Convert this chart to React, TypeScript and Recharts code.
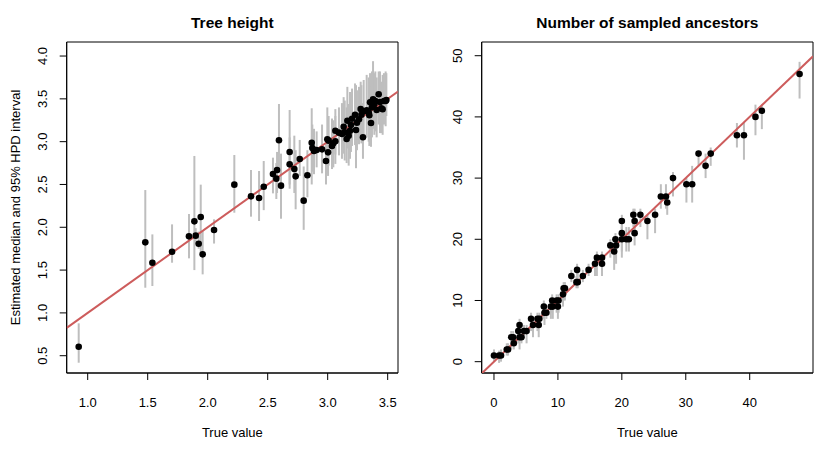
import React from 'react';
import { ScatterChart, Scatter, XAxis, YAxis, ErrorBar, ReferenceArea } from 'recharts';

// ---------- Tree height ----------
const heightTrue = [0.925, 1.48, 1.539, 1.703, 1.844, 1.889, 1.9, 1.925, 1.942, 1.958, 2.053, 2.222, 2.361, 2.428, 2.467, 2.544, 2.572, 2.578, 2.594, 2.611, 2.683, 2.683, 2.722, 2.733, 2.767, 2.8, 2.831, 2.867, 2.872, 2.886, 2.908, 2.953, 2.986, 2.997, 3.003, 3.008, 3.036, 3.047, 3.064, 3.064, 3.094, 3.119, 3.133, 3.142, 3.158, 3.164, 3.175, 3.186, 3.194, 3.203, 3.228, 3.236, 3.244, 3.261, 3.275, 3.281, 3.294, 3.3, 3.325, 3.342, 3.347, 3.353, 3.361, 3.369, 3.378, 3.389, 3.397, 3.408, 3.425, 3.436, 3.447, 3.458, 3.469, 3.483, 3.489];
const heightMedian = [0.605, 1.824, 1.586, 1.715, 1.894, 2.069, 1.902, 1.808, 2.12, 1.684, 1.968, 2.498, 2.361, 2.342, 2.474, 2.622, 2.568, 2.669, 3.016, 2.486, 2.879, 2.735, 2.68, 2.595, 2.797, 2.311, 2.607, 2.988, 2.926, 2.891, 2.903, 2.91, 2.774, 3.027, 2.875, 3.012, 2.95, 2.98, 3.004, 3.128, 3.105, 3.09, 3.175, 3.109, 3.031, 3.245, 3.07, 3.128, 3.194, 3.268, 3.315, 3.136, 3.222, 3.261, 3.382, 3.315, 3.051, 3.354, 3.366, 3.339, 3.308, 3.46, 3.218, 3.401, 3.495, 3.436, 3.475, 3.37, 3.553, 3.463, 3.389, 3.378, 3.475, 3.475, 3.487];
const heightLower = [0.418, 1.294, 1.314, 1.586, 1.637, 1.5, 1.8, 1.75, 1.7, 1.45, 1.81, 2.17, 2.124, 2.073, 2.2, 2.396, 2.33, 2.4, 2.63, 2.1, 2.5, 2.45, 2.4, 2.21, 2.6, 1.97, 2.35, 2.5, 2.65, 2.62, 2.7, 2.63, 2.5, 2.63, 2.6, 2.72, 2.68, 2.7, 2.74, 2.85, 2.84, 2.8, 2.86, 2.78, 2.75, 2.92, 2.72, 2.8, 2.88, 2.95, 2.96, 2.69, 2.9, 2.97, 3.05, 2.98, 2.8, 3.02, 3.05, 3.0, 2.95, 3.1, 2.94, 3.05, 3.15, 3.08, 3.12, 3.05, 3.2, 3.1, 3.1, 3.08, 3.2, 3.18, 3.3];
const heightUpper = [0.878, 2.435, 1.917, 2.034, 2.155, 2.833, 1.99, 1.95, 2.498, 1.968, 2.093, 2.844, 2.669, 2.657, 2.774, 2.813, 2.75, 2.88, 3.44, 2.86, 3.37, 3.05, 3.07, 2.9, 3.02, 2.71, 2.9, 3.39, 3.2, 3.15, 3.12, 3.2, 3.05, 3.4, 3.2, 3.3, 3.27, 3.25, 3.3, 3.38, 3.4, 3.45, 3.52, 3.48, 3.4, 3.64, 3.44, 3.58, 3.55, 3.62, 3.68, 3.66, 3.6, 3.64, 3.7, 3.66, 3.45, 3.72, 3.78, 3.75, 3.7, 3.8, 3.64, 3.82, 3.94, 3.8, 3.82, 3.75, 3.82, 3.82, 3.7, 3.78, 3.8, 3.82, 3.8];
const heightXTicks = [1.0, 1.5, 2.0, 2.5, 3.0, 3.5];
const heightYTicks = [0.5, 1.0, 1.5, 2.0, 2.5, 3.0, 3.5, 4.0];
const heightXDomain: [number, number] = [0.825, 3.586];
const heightYDomain: [number, number] = [0.298, 4.164];

// ---------- Number of sampled ancestors ----------
const ancTrue = [0.0, 0.8, 1.1, 2.0, 2.2, 2.7, 3.0, 3.1, 3.8, 4.0, 4.0, 4.3, 4.7, 5.1, 5.8, 6.1, 6.8, 7.1, 7.0, 7.8, 7.9, 8.2, 8.9, 9.1, 9.2, 9.8, 10.1, 10.0, 10.8, 11.1, 10.9, 12.1, 12.9, 13.0, 13.1, 13.9, 14.8, 15.8, 16.1, 16.9, 16.9, 18.2, 18.8, 19.0, 19.1, 20.0, 20.0, 20.0, 20.7, 21.1, 21.8, 22.0, 22.0, 22.9, 24.0, 25.2, 26.1, 26.9, 27.1, 28.0, 30.1, 31.0, 32.0, 33.1, 33.9, 38.0, 39.1, 40.9, 41.9, 47.8];
const ancMedian = [1, 1, 1, 2, 2, 4, 4, 3, 5, 6, 4, 4, 5, 5, 7, 6, 7, 7, 6, 9, 8, 8, 9, 10, 9, 10, 10, 9, 11, 12, 12, 14, 13, 15, 13, 14, 15, 16, 17, 17, 16, 19, 18, 20, 19, 21, 23, 20, 20, 20, 24, 23, 21, 24, 23, 24, 27, 27, 26, 30, 29, 29, 34, 32, 34, 37, 37, 40, 41, 47];
const ancLower = [0, -0.2, 0, 1, 1, 2, 3, 2, 3, 4, 2, 3, 4, 3, 5, 4, 5, 6, 4, 7, 6, 7, 7, 8, 7, 8, 8, 7, 9, 10, 10, 13, 12, 13, 12, 13, 14, 14, 14, 15, 14, 17, 15, 17, 16, 18, 20, 17, 18, 18, 22, 21, 19, 22, 20, 21, 25, 25, 24, 27, 26, 26, 32, 30, 32, 35, 33, 37, 38, 43];
const ancUpper = [2, 1.8, 2, 3, 3, 5, 5, 4, 6, 7, 5, 6, 6, 6, 8, 7, 8, 8, 7, 10, 9, 9, 10, 11, 10, 11, 11, 10, 12, 13, 13, 15, 14, 16, 15, 15, 16, 17, 18, 18, 17, 20, 19, 21, 20, 23, 24, 22, 22, 22, 25, 25, 22, 25, 24, 25, 29, 29, 27, 31, 30, 32, 34.5, 34, 35, 39, 39, 42, 42, 49];
const ancXTicks = [0, 10, 20, 30, 40];
const ancYTicks = [0, 10, 20, 30, 40, 50];
const ancXDomain: [number, number] = [-1.92, 49.9];
const ancYDomain: [number, number] = [-1.85, 52.24];

const FONT = '"Liberation Sans", Arial, Helvetica, sans-serif';
const PANEL_W = 415;
const PANEL_H = 457;

type Row = { x: number; y: number; err: [number, number] };

function buildRows(t: number[], m: number[], lo: number[], hi: number[]): Row[] {
  return t.map((x, i) => ({ x, y: m[i], err: [m[i] - lo[i], hi[i] - m[i]] }));
}

const Dot = (p: any) => <circle cx={p.cx} cy={p.cy} r={3.3} fill="#000" />;
const NoDot = () => <g />;

function Panel(props: {
  rows: Row[];
  xDomain: [number, number];
  yDomain: [number, number];
  xTicks: number[];
  yTicks: number[];
  fmt: (v: number) => string;
}) {
  const { rows, xDomain, yDomain, xTicks, yTicks, fmt } = props;
  const lo = Math.max(xDomain[0], yDomain[0]);
  const hi = Math.min(xDomain[1], yDomain[1]);
  const idLine = [
    { x: lo, y: lo },
    { x: hi, y: hi },
  ];
  const YTick = (p: any) => (
    <text
      x={p.x}
      y={p.y}
      transform={`rotate(-90, ${p.x}, ${p.y})`}
      textAnchor="middle"
      fontSize={13}
      fontFamily={FONT}
      fill="#000"
    >
      {fmt(p.payload.value)}
    </text>
  );
  return (
    <ScatterChart width={PANEL_W} height={PANEL_H} margin={{ top: 42, right: 17, bottom: 0, left: 0 }}>
      <XAxis
        type="number"
        dataKey="x"
        domain={xDomain}
        ticks={xTicks}
        allowDataOverflow
        height={84}
        tickSize={7}
        tickMargin={18}
        tickFormatter={fmt}
        stroke="#000"
        tick={{ fill: '#000', fontSize: 13, fontFamily: FONT }}
        interval={0}
      />
      <YAxis
        type="number"
        dataKey="y"
        domain={yDomain}
        ticks={yTicks}
        allowDataOverflow
        width={66.7}
        tickSize={7}
        tickMargin={13}
        stroke="#000"
        tick={YTick}
        interval={0}
      />
      <ReferenceArea x1={xDomain[0]} x2={xDomain[1]} y1={yDomain[0]} y2={yDomain[1]} fill="none" stroke="#000" strokeWidth={1} />
      <Scatter data={rows} shape={NoDot} isAnimationActive={false}>
        <ErrorBar dataKey="err" direction="y" width={0} stroke="#BEBEBE" strokeWidth={2} isAnimationActive={false} />
      </Scatter>
      <Scatter data={idLine} line={{ stroke: '#CD5C5C', strokeWidth: 2 }} shape={NoDot} isAnimationActive={false} />
      <Scatter data={rows} shape={Dot} isAnimationActive={false} />
    </ScatterChart>
  );
}

export default function App() {
  const heightRows = buildRows(heightTrue, heightMedian, heightLower, heightUpper);
  const ancRows = buildRows(ancTrue, ancMedian, ancLower, ancUpper);
  const leftCx = 66.7 + (PANEL_W - 17 - 66.7) / 2;
  const rightCx = PANEL_W + leftCx;
  const plotCy = 42 + (457 - 84 - 42) / 2;
  return (
    <div style={{ position: 'absolute', left: 0, top: 0, width: 830, height: 457, background: '#fff', overflow: 'hidden' }}>
      <div style={{ position: 'absolute', left: 0, top: 0 }}>
        <Panel rows={heightRows} xDomain={heightXDomain} yDomain={heightYDomain} xTicks={heightXTicks} yTicks={heightYTicks} fmt={(v) => v.toFixed(1)} />
      </div>
      <div style={{ position: 'absolute', left: PANEL_W, top: 0 }}>
        <Panel rows={ancRows} xDomain={ancXDomain} yDomain={ancYDomain} xTicks={ancXTicks} yTicks={ancYTicks} fmt={(v) => String(v)} />
      </div>
      <svg width={830} height={457} style={{ position: 'absolute', left: 0, top: 0, pointerEvents: 'none' }}>
        <text x={leftCx} y={28} textAnchor="middle" fontSize={15.5} fontWeight="bold" fontFamily={FONT} fill="#000">Tree height</text>
        <text x={rightCx} y={28} textAnchor="middle" fontSize={15.5} fontWeight="bold" fontFamily={FONT} fill="#000">Number of sampled ancestors</text>
        <text x={leftCx} y={437} textAnchor="middle" fontSize={13} fontFamily={FONT} fill="#000">True value</text>
        <text x={rightCx} y={437} textAnchor="middle" fontSize={13} fontFamily={FONT} fill="#000">True value</text>
        <text x={20} y={plotCy} transform={`rotate(-90, 20, ${plotCy})`} textAnchor="middle" fontSize={13} fontFamily={FONT} fill="#000">Estimated median and 95% HPD interval</text>
      </svg>
    </div>
  );
}
